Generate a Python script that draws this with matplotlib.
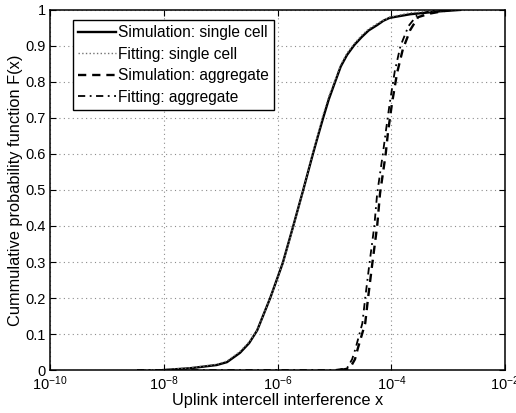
import numpy as np
import matplotlib
matplotlib.use("Agg")
import matplotlib.pyplot as plt

plt.rcParams["font.family"] = ["Liberation Sans", "DejaVu Sans"]
plt.rcParams["mathtext.fontset"] = "custom"
plt.rcParams["mathtext.rm"] = "Liberation Sans"
plt.rcParams["mathtext.it"] = "Liberation Sans:italic"

# log10 of interference and the CDF
sim_single_logx = [-8.01, -7.54, -7.07, -6.89, -6.66, -6.50, -6.36, -6.13, -5.91, -5.73, -5.55,
                   -5.38, -5.30, -5.20, -5.10, -4.99, -4.89, -4.78, -4.65, -4.52, -4.40, -4.25,
                   -4.14, -4.03, -3.67, -3.15, -2.79]
sim_single_F = [0.0, 0.005, 0.014, 0.022, 0.048, 0.075, 0.11, 0.20, 0.297, 0.397, 0.50,
                0.60, 0.645, 0.70, 0.752, 0.80, 0.843, 0.875, 0.903, 0.925, 0.943, 0.958,
                0.97, 0.978, 0.988, 0.996, 1.0]

fit_single_logx = [-8.47, -8.01, -7.54, -7.07, -6.89, -6.66, -6.50, -6.36, -6.13, -5.91, -5.73,
                   -5.55, -5.38, -5.30, -5.20, -5.10, -4.99, -4.89, -4.78, -4.65, -4.52, -4.40,
                   -4.25, -4.03, -3.67, -3.15, -2.79]
fit_single_F = [0.0, 0.001, 0.006, 0.016, 0.025, 0.052, 0.078, 0.11, 0.20, 0.295, 0.395,
                0.50, 0.605, 0.65, 0.71, 0.76, 0.805, 0.848, 0.88, 0.907, 0.93, 0.947,
                0.962, 0.98, 0.992, 0.998, 1.0]

sim_agg_logx = [-4.9, -4.73, -4.64, -4.59, -4.46, -4.41, -4.34, -4.25, -4.20, -4.10,
                -4.06, -3.99, -3.90, -3.80, -3.67, -3.53, -3.32, -2.97]
sim_agg_F = [0.0, 0.005, 0.03, 0.06, 0.13, 0.20, 0.29, 0.40, 0.49, 0.60,
             0.66, 0.74, 0.825, 0.89, 0.944, 0.98, 0.99, 1.0]

fit_agg_logx = [-8.47, -6.0, -5.0, -4.78, -4.69, -4.63, -4.51, -4.46, -4.39, -4.30, -4.25,
                -4.15, -4.10, -4.03, -3.94, -3.84, -3.70, -3.55, -3.32, -3.0]
fit_agg_F = [0.0, 0.0, 0.0, 0.005, 0.03, 0.06, 0.13, 0.20, 0.29, 0.40, 0.49,
             0.60, 0.66, 0.74, 0.83, 0.90, 0.955, 0.985, 0.997, 1.0]

fig = plt.figure(figsize=(5.16, 4.13), dpi=100)
ax = fig.add_axes([0.097, 0.104, 0.882, 0.872])

ax.plot(10.0 ** np.array(sim_single_logx), sim_single_F, "k-", lw=1.7,
        label="Simulation: single cell")
ax.plot(10.0 ** np.array(fit_single_logx), fit_single_F, ":", color="0.45", lw=1.0,
        label="Fitting: single cell")
ax.plot(10.0 ** np.array(sim_agg_logx), sim_agg_F, "k--", lw=1.7, dashes=(3.5, 2.5),
        label="Simulation: aggregate")
ax.plot(10.0 ** np.array(fit_agg_logx), fit_agg_F, "k-.", lw=1.3, dashes=(4, 2.5, 1, 2.5),
        label="Fitting: aggregate")

ax.set_xscale("log")
ax.set_xlim(1e-10, 1e-2)
ax.set_ylim(0, 1)
ax.set_xticks([1e-10, 1e-8, 1e-6, 1e-4, 1e-2])
ax.xaxis.set_minor_locator(matplotlib.ticker.NullLocator())
ax.set_yticks(np.arange(0, 1.01, 0.1))
ax.set_yticklabels(["0", "0.1", "0.2", "0.3", "0.4", "0.5", "0.6", "0.7", "0.8", "0.9", "1"])
ax.tick_params(direction="in", top=True, right=True, labelsize=10.5, length=4, pad=3)
ax.grid(True, linestyle=(0, (1, 3)), color="0.55", lw=0.8)
for s in ax.spines.values():
    s.set_linewidth(1.1)

ax.set_xlabel("Uplink intercell interference x", fontsize=11.8, labelpad=0)
ax.set_ylabel("Cummulative probability function F(x)", fontsize=11.8, labelpad=2)

leg = ax.legend(loc="upper left", bbox_to_anchor=(0.05, 0.973), fontsize=11.2,
                handlelength=2.4, handletextpad=0.15, borderpad=0.35, labelspacing=0.42,
                fancybox=False, framealpha=1, edgecolor="k", borderaxespad=0)
leg.get_frame().set_linewidth(1.0)

fig.savefig("out.png", dpi=100)
